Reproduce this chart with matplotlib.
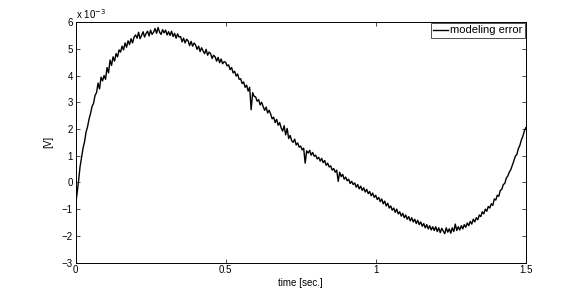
import numpy as np
import matplotlib
matplotlib.use("Agg")
import matplotlib.pyplot as plt

plt.rcParams['font.family'] = ['Liberation Sans', 'DejaVu Sans']

# time axis, 0 .. 1.5 s in 0.005 s steps
t_start = 0.0
t_step = 0.005

# modeling error, in units of 1e-3 V
err = [
    -0.90, -0.42, 0.05, 0.58, 0.93, 1.28, 1.52, 1.88, 2.08, 2.37,
    2.58, 2.84, 2.96, 3.26, 3.36, 3.72, 3.50, 3.94, 3.80, 4.00,
    3.86, 4.30, 4.10, 4.58, 4.38, 4.70, 4.54, 4.82, 4.70, 4.96,
    4.88, 5.10, 4.96, 5.22, 5.06, 5.30, 5.16, 5.38, 5.22, 5.44,
    5.52, 5.40, 5.62, 5.38, 5.50, 5.64, 5.44, 5.58, 5.66, 5.48,
    5.70, 5.54, 5.62, 5.76, 5.58, 5.80, 5.62, 5.54, 5.72, 5.60,
    5.70, 5.52, 5.64, 5.50, 5.66, 5.46, 5.58, 5.40, 5.56, 5.44,
    5.46, 5.26, 5.40, 5.22, 5.36, 5.30, 5.12, 5.28, 5.10, 5.22,
    5.14, 4.98, 5.10, 4.90, 5.04, 4.92, 4.82, 4.98, 4.76, 4.88,
    4.82, 4.64, 4.76, 4.70, 4.54, 4.68, 4.48, 4.62, 4.44, 4.52,
    4.50, 4.36, 4.40, 4.22, 4.30, 4.10, 4.16, 3.98, 4.06, 3.86,
    3.88, 3.70, 3.76, 3.56, 3.64, 3.42, 3.56, 2.72, 3.36, 3.22,
    3.20, 3.04, 3.10, 2.90, 3.00, 2.84, 2.70, 2.82, 2.60, 2.70,
    2.56, 2.38, 2.44, 2.24, 2.36, 2.14, 2.24, 2.04, 1.92, 2.12,
    1.78, 2.02, 1.64, 1.76, 1.56, 1.50, 1.62, 1.40, 1.48, 1.32,
    1.36, 1.22, 1.28, 0.72, 1.18, 1.10, 1.20, 1.02, 1.12, 0.98,
    1.02, 0.88, 0.94, 0.80, 0.90, 0.74, 0.82, 0.64, 0.72, 0.58,
    0.62, 0.46, 0.52, 0.38, 0.46, 0.04, 0.38, 0.22, 0.30, 0.12,
    0.20, 0.06, 0.12, -0.04, 0.04, -0.08, -0.02, -0.18, -0.08, -0.24,
    -0.14, -0.30, -0.20, -0.36, -0.26, -0.42, -0.34, -0.50, -0.40, -0.56,
    -0.48, -0.64, -0.56, -0.72, -0.62, -0.80, -0.70, -0.88, -0.78, -0.96,
    -0.88, -1.04, -0.96, -1.12, -1.00, -1.18, -1.10, -1.26, -1.16, -1.32,
    -1.22, -1.38, -1.28, -1.44, -1.32, -1.48, -1.38, -1.54, -1.42, -1.58,
    -1.48, -1.64, -1.54, -1.70, -1.58, -1.74, -1.62, -1.78, -1.66, -1.80,
    -1.66, -1.84, -1.70, -1.88, -1.72, -1.82, -1.92, -1.70, -1.86, -1.74,
    -1.90, -1.70, -1.84, -1.56, -1.80, -1.66, -1.78, -1.62, -1.74, -1.58,
    -1.68, -1.52, -1.62, -1.46, -1.56, -1.38, -1.48, -1.32, -1.40, -1.22,
    -1.28, -1.10, -1.18, -1.00, -1.08, -0.90, -0.96, -0.80, -0.86, -0.62,
    -0.66, -0.48, -0.52, -0.30, -0.26, -0.08, -0.04, 0.16, 0.24, 0.38,
    0.48, 0.64, 0.80, 0.98, 1.04, 1.26, 1.38, 1.58, 1.72, 1.92,
    2.05,
]

x_ticks = [0, 0.5, 1, 1.5]
x_tick_labels = ['0', '0.5', '1', '1.5']
y_ticks = [-3, -2, -1, 0, 1, 2, 3, 4, 5, 6]

t = t_start + t_step * np.arange(len(err))

fig = plt.figure(figsize=(5.81, 2.95), dpi=100)
ax = fig.add_axes([0.13, 0.11, 0.775, 0.815])
ax.plot(t, err, color='black', linewidth=1.0, label='modeling error')

ax.set_xlim(0, 1.5)
ax.set_ylim(-3, 6)
ax.set_xticks(x_ticks)
ax.set_xticklabels(x_tick_labels)
ax.set_yticks(y_ticks)
ax.tick_params(direction='in', top=True, right=True, length=3, width=0.5,
               labelsize=7, pad=2)
for s in ax.spines.values():
    s.set_linewidth(0.7)

ax.text(0.0, 1.005, r'x 10$^{-3}$', transform=ax.transAxes, fontsize=7,
        ha='left', va='bottom')
ax.set_xlabel('time [sec.]', fontsize=7, labelpad=2)
ax.set_ylabel('[V]', fontsize=7, labelpad=6)

leg = ax.legend(loc='upper right', fontsize=8, frameon=True, fancybox=False,
                handlelength=1.3, handletextpad=0.2, borderpad=0.2,
                borderaxespad=0.1)
leg.get_frame().set_edgecolor('black')
leg.get_frame().set_linewidth(0.6)

fig.savefig('out.png', dpi=100)
